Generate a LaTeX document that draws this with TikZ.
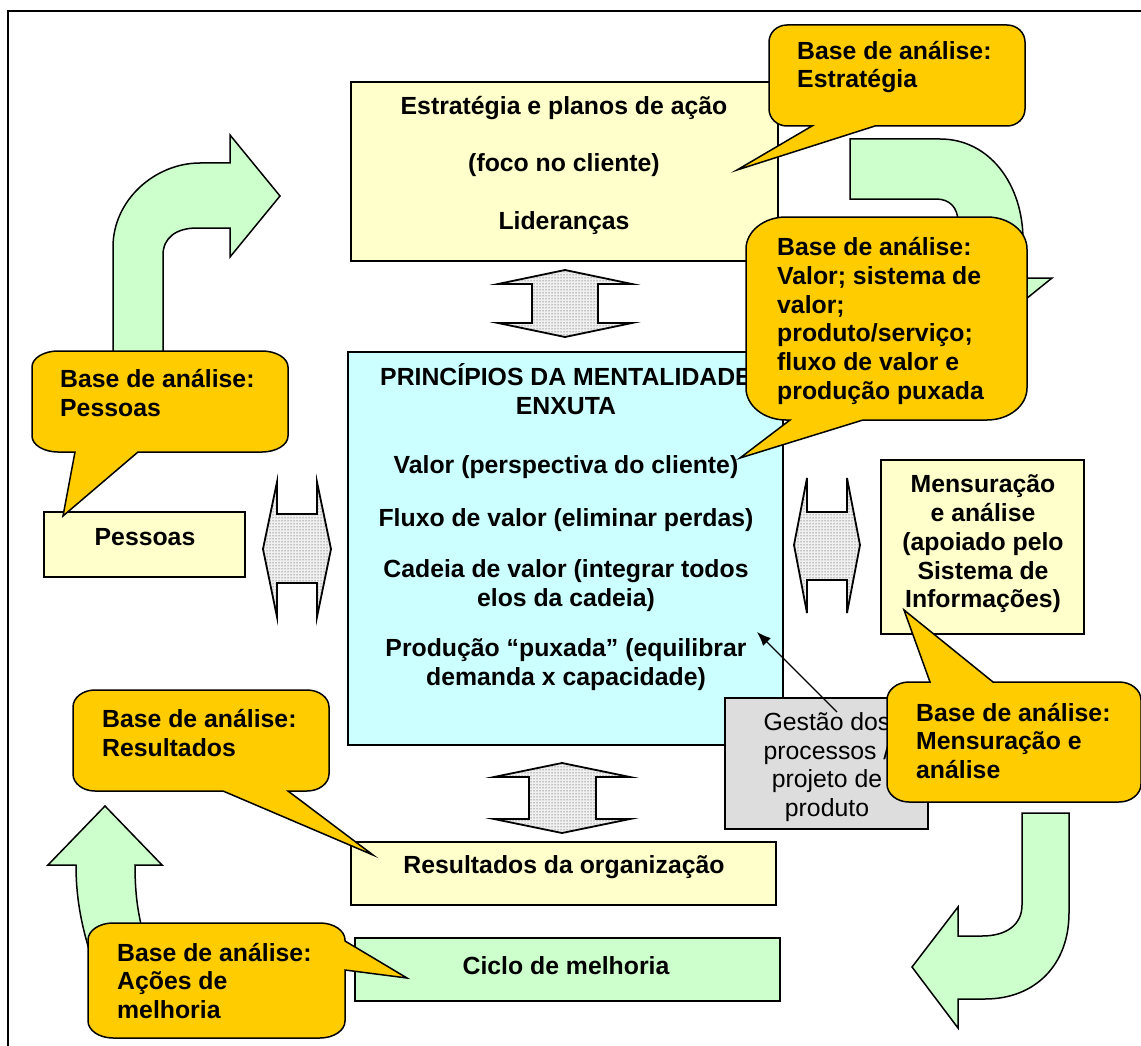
\documentclass[tikz,border=0pt]{standalone}
\usepackage{fontspec}
\setmainfont{Liberation Sans}
\usetikzlibrary{patterns,arrows.meta}

\definecolor{boxyellow}{HTML}{FFFFCC}
\definecolor{boxcyan}{HTML}{CCFFFF}
\definecolor{boxgreen}{HTML}{CCFFCC}
\definecolor{boxgray}{HTML}{DDDDDD}
\definecolor{balloonorange}{HTML}{FFCC00}

\newcommand\labelfont{\fontsize{24.8}{28.75}\selectfont}

% Rounded speech balloon: x1, y1, x2, y2, extra path on top / right / bottom edge, x radius, y radius
\newcommand\balloon[9]{%
  \draw[balloonshape]
    ({#1+#8},#2) #5 -- ({#3-#8},#2)
    arc[start angle=270,end angle=360,x radius=#8,y radius=#9]
    #6 -- (#3,{#4-#9})
    arc[start angle=0,end angle=90,x radius=#8,y radius=#9]
    #7 -- ({#1+#8},#4)
    arc[start angle=90,end angle=180,x radius=#8,y radius=#9]
    -- (#1,{#2+#9})
    arc[start angle=180,end angle=270,x radius=#8,y radius=#9]
    -- cycle;}

\begin{document}
\begin{tikzpicture}[x=1pt,y=-1pt,
  box/.style={draw, line width=1.8, inner sep=0},
  boxtext/.style={font=\labelfont\bfseries, align=center, inner sep=0},
  plaintext/.style={font=\labelfont, align=center, inner sep=0},
  balloontext/.style={font=\labelfont\bfseries, align=left, inner sep=0, anchor=west},
  balloonshape/.style={draw, line width=1.5, fill=balloonorange},
  turnarrow/.style={draw, line width=1.5, fill=boxgreen},
  twinarrow/.style={draw, line width=1.8, fill=gray!12,
    postaction={pattern=dots, pattern color=black!85}},
]
\useasboundingbox (0,0) rectangle (1141,1046);
\clip (0,0) rectangle (1141,1046);

% outer frame
\draw[line width=2.4] (8,1070) -- (8,11) -- (1170,11);

% curved green arrows of the improvement cycle
\path[turnarrow] (113,360) -- (113,247) .. controls (113,200) and (155,163) .. (200,163)
  -- (230,163) -- (230,135) -- (280,196) -- (230,257) -- (230,228) -- (197,228)
  .. controls (176,228) and (163,238) .. (163,255) -- (163,360) -- cycle;
\path[turnarrow] (850,139) -- (940,139) .. controls (990,139) and (1023,185) .. (1023,240)
  -- (1023,278) -- (1052,278) -- (990,328) -- (928,278) -- (958,278) -- (958,222)
  .. controls (958,208) and (950,199) .. (936,199) -- (850,199) -- cycle;
\path[turnarrow] (1022,813) -- (1069,813) -- (1069,913) .. controls (1069,965) and (1035,999) .. (985,999)
  -- (958,999) -- (958,1028) -- (912,967) -- (958,907) -- (958,936) -- (982,936)
  .. controls (1006,936) and (1022,925) .. (1022,905) -- cycle;
\path[turnarrow] (105,806) -- (162,865) -- (135,865) .. controls (135,895) and (138,915) .. (145,940)
  -- (152,968) -- (95,968) .. controls (82,930) and (76,900) .. (76,865) -- (48,865) -- cycle;

% boxes
\node[box, fill=boxyellow, minimum width=427, minimum height=179] (estrategia) at (564.5,171.5) {};
\node[boxtext] (estrategia-t) at (564,165) {Estratégia e planos de ação\\[28.75pt](foco no cliente)\\[28.75pt]Lideranças};

\node[box, fill=boxcyan, minimum width=435, minimum height=393] (principios) at (565.5,548.5) {};
\node[boxtext] (principios-t) at (566,527) {PRINCÍPIOS DA MENTALIDADE\\ENXUTA\\[30pt]Valor (perspectiva do cliente)\\[24pt]Fluxo de valor (eliminar perdas)\\[23pt]Cadeia de valor (integrar todos\\elos da cadeia)\\[21pt]Produção “puxada” (equilibrar\\demanda x capacidade)};

\node[box, fill=boxyellow, minimum width=201, minimum height=65] (pessoas) at (144.5,544.5) {};
\node[boxtext] (pessoas-t) at (145,537) {Pessoas};

\node[box, fill=boxyellow, minimum width=203, minimum height=174] (mensuracao) at (982.5,547) {};
\node[boxtext] (mensuracao-t) at (983,544) {Mensuração\\e análise\\(apoiado pelo\\Sistema de\\Informações)};

\node[box, fill=boxyellow, minimum width=425, minimum height=63] (resultados) at (563.5,873.5) {};
\node[boxtext] (resultados-t) at (564,867) {Resultados da organização};

\node[box, fill=boxgreen, minimum width=425, minimum height=63] (ciclo) at (567.5,969.5) {};
\node[boxtext] (ciclo-t) at (566,966) {Ciclo de melhoria};

% two-headed dotted arrows between the blocks
\path[twinarrow] (565,270) -- (632,284) -- (598,284) -- (598,323) -- (632,323) -- (565,337)
  -- (498,323) -- (532,323) -- (532,284) -- (498,284) -- cycle;
\path[twinarrow] (562,763) -- (630,777) -- (596,777) -- (596,819) -- (630,819) -- (562,833)
  -- (494,819) -- (529,819) -- (529,777) -- (494,777) -- cycle;
\path[twinarrow] (263,549) -- (277,482) -- (277,514) -- (317,514) -- (317,482) -- (331,549)
  -- (317,617) -- (317,583) -- (277,583) -- (277,617) -- cycle;
\path[twinarrow] (794,545) -- (807,478) -- (807,512) -- (847,512) -- (847,478) -- (860,545)
  -- (847,613) -- (847,580) -- (807,580) -- (807,613) -- cycle;

% process management box and its pointer
\node[box, fill=boxgray, minimum width=203, minimum height=131] (gestao) at (826.5,763.5) {};
\node[plaintext] (gestao-t) at (827,767) {Gestão dos\\processos /\\projeto de\\produto};
\coordinate (gestao-from) at (837,712);
\coordinate (principios-to) at (757,632);
\draw[line width=1.3, -{Latex[length=14pt,width=11pt]}] (gestao-from) -- (principios-to);

% speech balloons
\balloon{769}{25}{1025}{126}{}{}{-- (875,126) -- (737,170) -- (812,126)}{18}{17}
\node[balloontext] (b-estrategia) at (797,67) {Base de análise:\\Estratégia};

\balloon{746}{217}{1027}{420}{}{}{-- (863,420) -- (740,458) -- (790,420)}{40}{32}
\node[balloontext] (b-valor) at (777,321) {Base de análise:\\Valor; sistema de\\valor;\\produto/serviço;\\fluxo de valor e\\produção puxada};

\balloon{32}{351}{288}{452}{}{}{-- (138,452) -- (63,516) -- (75,452)}{26}{16}
\node[balloontext] (b-pessoas) at (60,393) {Base de análise:\\Pessoas};

\balloon{73}{690}{329}{791}{}{}{-- (288,791) -- (373,855) -- (223,791)}{22}{17}
\node[balloontext] (b-resultados) at (102,733) {Base de análise:\\Resultados};

\balloon{887}{682}{1141}{802}{-- (930,682) -- (904,610) -- (993,682)}{}{}{22}{18}
\node[balloontext] (b-mensuracao) at (916,741) {Base de análise:\\Mensuração e\\análise};

\balloon{88}{923}{345}{1038}{}{-- (345,941) -- (407,978) -- (345,970)}{}{25}{17}
\node[balloontext] (b-acoes) at (117,981) {Base de análise:\\Ações de\\melhoria};
\end{tikzpicture}
\end{document}
